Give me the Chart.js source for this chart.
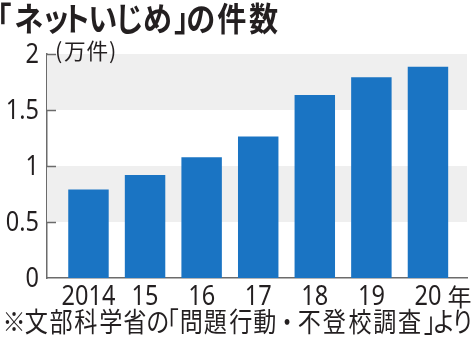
<!DOCTYPE html>
<html lang="ja">
<head>
<meta charset="utf-8">
<title>「ネットいじめ」の件数</title>
<script src="https://cdn.jsdelivr.net/npm/chart.js@4/dist/chart.umd.min.js"></script>
<style>
  html, body { margin: 0; padding: 0; background: #fff; }
  canvas { display: block; }
</style>
</head>
<body>
<canvas id="chart" width="474" height="341"></canvas>
<script>
// 年度と件数（文部科学省「問題行動・不登校調査」）
const years = [2014, 2015, 2016, 2017, 2018, 2019, 2020];
const yearLabels = ['2014', '15', '16', '17', '18', '19', '20'];
const yearUnit = '年';
const cases = [7898, 9187, 10783, 12632, 16334, 17924, 18870];
const yTicks = [0, 0.5, 1, 1.5, 2];
const shadedBands = [[0.5, 1], [1.5, 2]];

const titleText = '「ネットいじめ」の件数';
const unitText = '(万件)';
const sourceText = '※文部科学省の「問題行動・不登校調査」より';

const INK = '#231f20';
const BLUE = '#1a74c3';
const AXIS = '#6b6b6b';
const NUM_FONT = '28px "Noto Sans", sans-serif';
const NUM_SQUEEZE = 0.84;
const JP_FONT = '"Noto Sans CJK JP", sans-serif';

// proportional setting: each glyph advances by its own ink width plus a small gap
// (the middle dot keeps its full em), then the line is scaled so its ink runs x0..x1
function fitText(ctx, text, font, gap, x0, x1, y) {
  ctx.save();
  ctx.font = font;
  ctx.textAlign = 'left';
  ctx.textBaseline = 'middle';
  ctx.fillStyle = INK;
  const glyphs = [];
  let pen = 0;
  for (const ch of text) {
    const m = ctx.measureText(ch);
    if (ch === '・') {
      glyphs.push({ch, x: pen - gap});
      pen += m.width - gap;
      continue;
    }
    glyphs.push({ch, x: pen + m.actualBoundingBoxLeft});
    pen += m.actualBoundingBoxLeft + m.actualBoundingBoxRight + gap;
  }
  const inkWidth = pen - gap;
  ctx.translate(x0, y);
  ctx.scale((x1 - x0) / inkWidth, 1);
  glyphs.forEach(g => ctx.fillText(g.ch, g.x, 0));
  ctx.restore();
}

// condensed figures for the axis labels
function drawNumber(ctx, text, x, y, align) {
  ctx.save();
  ctx.font = NUM_FONT;
  ctx.fillStyle = INK;
  ctx.textBaseline = 'middle';
  ctx.textAlign = align;
  ctx.translate(x, y);
  ctx.scale(NUM_SQUEEZE, 1);
  ctx.fillText(text, 0, 0);
  const w = ctx.measureText(text).width * NUM_SQUEEZE;
  ctx.restore();
  return w;
}

const newsLayout = {
  id: 'newsLayout',
  beforeDatasetsDraw(chart) {
    const {ctx, chartArea, scales: {y}} = chart;
    ctx.save();
    ctx.fillStyle = '#efefef';
    shadedBands.forEach(([lo, hi]) => {
      const top = y.getPixelForValue(hi);
      ctx.fillRect(chartArea.left, top, chartArea.right - chartArea.left, y.getPixelForValue(lo) - top);
    });
    ctx.restore();
  },
  afterDraw(chart) {
    const {ctx, chartArea, scales: {x, y}} = chart;

    // short inward ticks on the value axis
    ctx.save();
    ctx.strokeStyle = AXIS;
    ctx.lineWidth = 1.5;
    yTicks.slice(1).forEach(v => {
      const py = Math.round(y.getPixelForValue(v)) + 0.5;
      ctx.beginPath();
      ctx.moveTo(chartArea.left, py);
      ctx.lineTo(chartArea.left + 9, py);
      ctx.stroke();
    });
    ctx.restore();

    // value labels
    yTicks.forEach(v => drawNumber(ctx, String(v), chartArea.left - 8, y.getPixelForValue(v) + 1, 'right'));

    // year labels, with 年 after the last one
    const labelY = chartArea.bottom + 19;
    let lastW = 0;
    years.forEach((yr, i) => { lastW = drawNumber(ctx, yearLabels[i], x.getPixelForValue(yr), labelY, 'center'); });
    ctx.save();
    ctx.font = '24px ' + JP_FONT;
    ctx.fillStyle = INK;
    ctx.textAlign = 'left';
    ctx.textBaseline = 'middle';
    ctx.fillText(yearUnit, x.getPixelForValue(years[years.length - 1]) + lastW / 2 + 6, labelY);
    ctx.restore();

    fitText(ctx, titleText, 'bold 33px ' + JP_FONT, 4, 1, 278, 18);
    fitText(ctx, unitText, '22px ' + JP_FONT, 2, 57, 115, 51);
    fitText(ctx, sourceText, '27px ' + JP_FONT, 3, 5, 470, 322);
  }
};

new Chart(document.getElementById('chart'), {
  type: 'bar',
  data: {
    datasets: [{
      data: years.map((yr, i) => ({x: yr, y: cases[i] / 10000})),
      backgroundColor: BLUE,
      borderWidth: 0,
      categoryPercentage: 1,
      barPercentage: 0.715
    }]
  },
  options: {
    responsive: false,
    devicePixelRatio: 1,
    animation: false,
    layout: {padding: {top: 54, right: 7, bottom: 0, left: 0}},
    plugins: {
      legend: {display: false},
      tooltip: {enabled: false}
    },
    scales: {
      x: {
        type: 'linear',
        offset: false,
        min: 2013.267,
        max: 2020.69,
        afterFit: s => { s.height = 63; },
        grid: {display: false, drawTicks: false, offset: false},
        border: {display: true, color: AXIS, width: 1.5},
        ticks: {display: false}
      },
      y: {
        min: 0,
        max: 2,
        afterFit: s => { s.width = 47; },
        grid: {display: false, drawTicks: false},
        border: {display: true, color: AXIS, width: 1.5},
        ticks: {display: false, stepSize: 0.5}
      }
    }
  },
  plugins: [newsLayout]
});
</script>
</body>
</html>
